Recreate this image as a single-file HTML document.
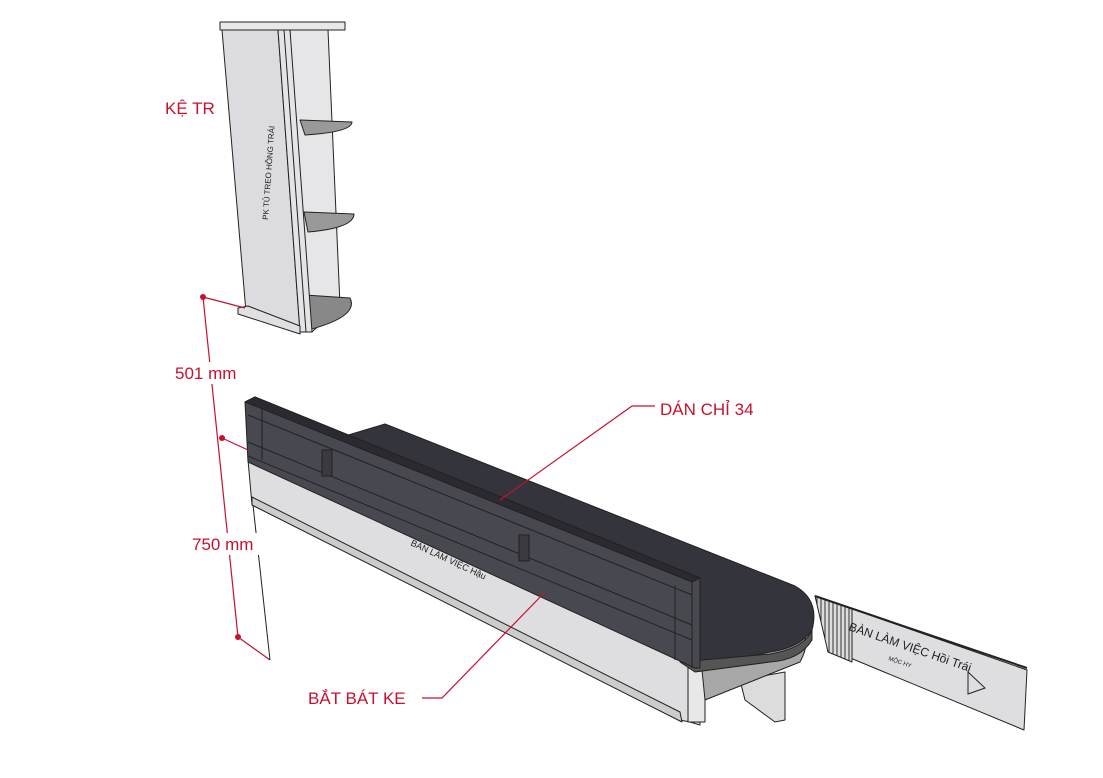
<!DOCTYPE html>
<html><head><meta charset="utf-8"><style>
html,body{margin:0;padding:0;background:#fff;}
svg{display:block}
text{font-family:"Liberation Sans",sans-serif}
</style></head><body>
<svg width="1103" height="778" viewBox="0 0 1103 778" xmlns="http://www.w3.org/2000/svg">
<defs>
<pattern id="hatch" width="4" height="4" patternUnits="userSpaceOnUse"><rect width="4" height="4" fill="#ddd"/><line x1="1" y1="0" x2="1" y2="4" stroke="#333" stroke-width="1"/></pattern>
</defs>
<g stroke="#222" stroke-width="1" stroke-linejoin="round">
<!-- shelf unit -->
<polygon points="290,30 328,30 340,305 312,332 298,332" fill="#e6e6e8"/>
<path d="M300,120 L352,122 Q352,132 305,135 Z" fill="#999"/>
<path d="M304,212 L354,214 Q354,228 308,232 Z" fill="#999"/>
<path d="M305,295 L350,298 Q360,318 300,332 Z" fill="#888"/>
<polygon points="222,30 278,30 300,332 246,312" fill="#dcdce0"/>
<polygon points="278,30 290,30 312,332 300,332" fill="#e4e4e8"/>
<line x1="284" y1="30" x2="306" y2="332"/>
<polygon points="220,22 345,22 345,30 220,30" fill="#e8e8ea"/>
<polygon points="238,308 248,306 300,326 300,334 238,314" fill="#e0e0e2"/>
<!-- right long panel -->
<polygon points="815,596 1027,670 1024,730 848,657" fill="#dedee0"/>
<polygon points="815,596 852,609 852,662 828,652" fill="url(#hatch)"/>
<line x1="815" y1="596" x2="1027" y2="668" stroke-width="2"/>
<!-- bracket -->
<polygon points="740,680 785,672 785,720 775,722 745,700" fill="#dcdcdc"/>
<!-- light side panel -->
<polygon points="248,460 700,665 700,725 690,722 680,720 252,505" fill="#dedee0"/>
<polygon points="252,497 680,712 682,722 252,505" fill="#ccc"/>
<polygon points="688,665 705,665 705,722 688,722" fill="#e8e8e8"/>
<!-- gray cylinder -->
<path d="M700,650 L800,628 Q812,640 800,662 L705,700 Z" fill="#a8a8a8"/>
<!-- dark desk top -->
<path d="M345,436 L385,424 L795,586 Q820,600 812,630 Q800,648 770,652 L695,668 L680,660 Z" fill="#34343c"/>
<path d="M680,662 L770,654 Q805,648 812,630 L812,640 Q800,660 770,662 L695,672 Z" fill="#555"/>
<!-- dark front back-panel -->
<polygon points="245,402 255,397 700,578 700,668 695,668 248,462" fill="#484850"/>
<polygon points="245,402 255,397 700,578 692,582" fill="#2a2a30"/>
<line x1="248" y1="415" x2="692" y2="595"/>
<line x1="248" y1="442" x2="692" y2="625"/>
<line x1="248" y1="456" x2="692" y2="640"/>
<line x1="262" y1="408" x2="262" y2="460"/>
<line x1="675" y1="585" x2="675" y2="660"/>
<rect x="322" y="450" width="10" height="26" fill="#3a3a40"/>
<rect x="519" y="535" width="10" height="26" fill="#3a3a40"/>
<line x1="692" y1="582" x2="692" y2="668"/>
</g>
<!-- labels on panels -->
<text x="0" y="0" font-size="8" fill="#222" transform="translate(268,220) rotate(-86)">PK TỦ TREO HỒNG TRÁI</text>
<text x="0" y="0" font-size="9" fill="#222" transform="translate(410,545) rotate(25)">BÀN LÀM VIỆC Hậu</text>
<text x="0" y="0" font-size="12" fill="#222" transform="translate(848,630) rotate(19)">BÀN LÀM VIỆC Hồi Trái</text>
<text x="0" y="0" font-size="6" fill="#222" transform="translate(888,660) rotate(19)">MỘC HY</text>
<polygon points="968,672 985,688 968,694" fill="none" stroke="#222"/>
<!-- dimension lines -->
<g stroke="#c8102e" stroke-width="1.2" fill="none">
<line x1="203" y1="297" x2="238" y2="637"/>
<line x1="203" y1="297" x2="245" y2="308"/>
<line x1="222" y1="438" x2="248" y2="450"/>
<line x1="238" y1="637" x2="270" y2="660"/>
<polyline points="655,406 632,406 500,500"/>
<polyline points="422,698 442,698 545,592"/>
</g>
<line x1="253" y1="505" x2="270" y2="660" stroke="#222"/>
<g fill="#c8102e"><circle cx="203" cy="297" r="3"/><circle cx="222" cy="438" r="3"/><circle cx="238" cy="637" r="3"/></g>
<rect x="172" y="362" width="80" height="22" fill="#fff"/>
<rect x="190" y="533" width="75" height="22" fill="#fff"/>
<g fill="#c8102e" font-size="17">
<text x="175" y="379">501 mm</text>
<text x="192" y="550">750 mm</text>
<text x="165" y="114">KỆ TR</text>
<text x="660" y="415">DÁN CHỈ 34</text>
<text x="308" y="704">BẮT BÁT KE</text>
</g>
</svg>
</body></html>
